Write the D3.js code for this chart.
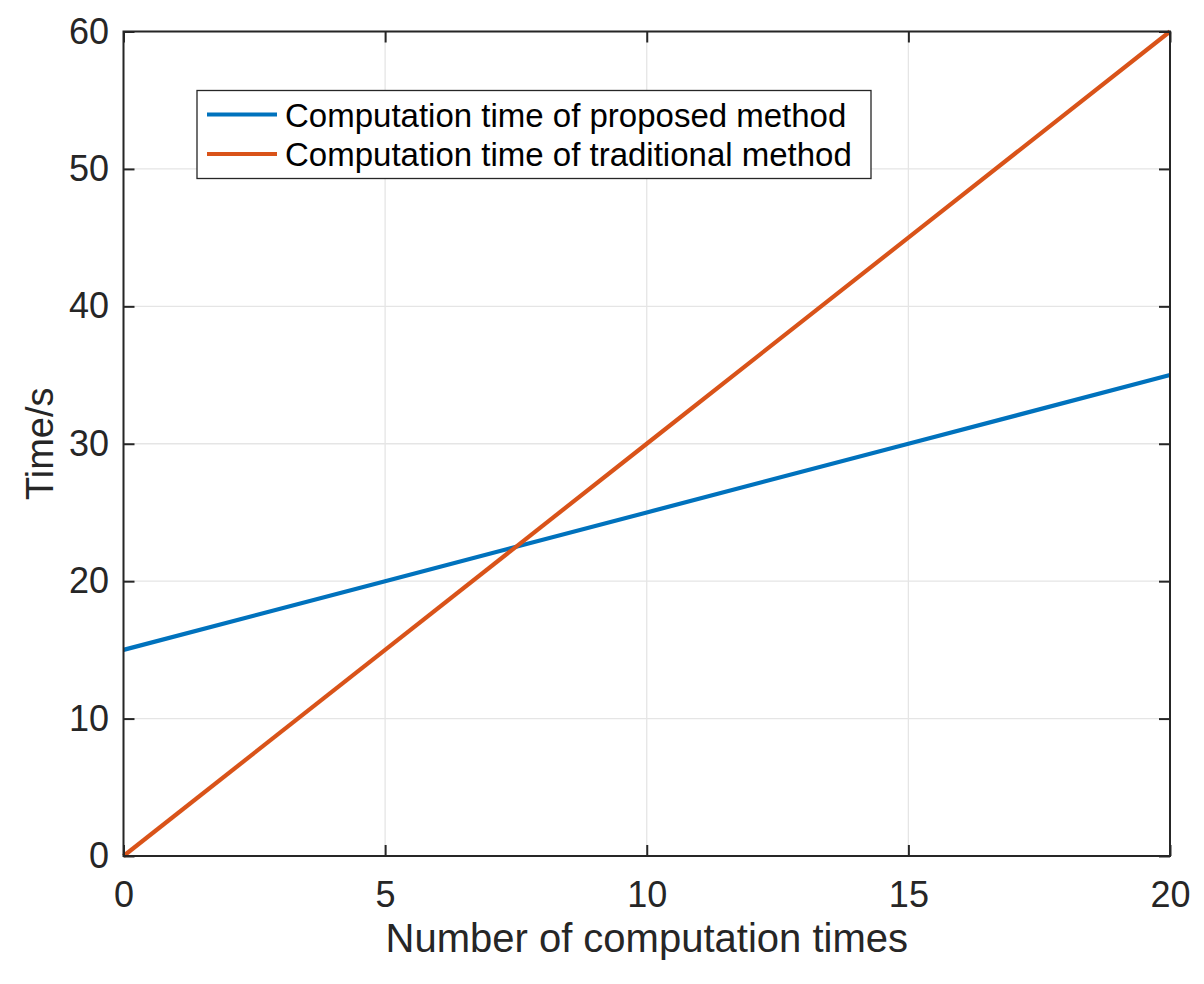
<!DOCTYPE html>
<html>
<head>
<meta charset="utf-8">
<script src="https://cdn.jsdelivr.net/npm/d3@7"></script>
<style>
  body { margin: 0; background: #fff; }
  svg text { font-family: "Liberation Sans", Arial, Helvetica, sans-serif; fill: #262626; }
</style>
</head>
<body>
<div id="chart"></div>
<script>
// data
var runs = [0, 5, 10, 15, 20];
var proposedTime = [15, 20, 25, 30, 35];
var traditionalTime = [0, 15, 30, 45, 60];
var xTicks = [0, 5, 10, 15, 20];
var yTicks = [0, 10, 20, 30, 40, 50, 60];
var seriesNames = ["Computation time of proposed method", "Computation time of traditional method"];
var seriesColors = ["#0072BD", "#D95319"];

var width = 1204, height = 984;
var margin = {top: 31.5, right: 34, bottom: 128, left: 123.5};
var plotW = width - margin.left - margin.right;
var plotH = height - margin.top - margin.bottom;

var svg = d3.select("#chart").append("svg")
    .attr("width", width)
    .attr("height", height);

var g = svg.append("g")
    .attr("transform", "translate(" + margin.left + "," + margin.top + ")");

var x = d3.scaleLinear().domain([0, 20]).range([0, plotW]);
var y = d3.scaleLinear().domain([0, 60]).range([plotH, 0]);

// grid
g.append("g").selectAll("line").data(xTicks).enter().append("line")
    .attr("x1", d => x(d)).attr("x2", d => x(d))
    .attr("y1", 0).attr("y2", plotH)
    .attr("stroke", "#e5e5e5").attr("stroke-width", 1.3);
g.append("g").selectAll("line").data(yTicks).enter().append("line")
    .attr("y1", d => y(d)).attr("y2", d => y(d))
    .attr("x1", 0).attr("x2", plotW)
    .attr("stroke", "#e5e5e5").attr("stroke-width", 1.3);

// lines
var series = [proposedTime, traditionalTime];
var line = d3.line()
    .x((d, i) => x(runs[i]))
    .y(d => y(d));

series.forEach(function(vals, k){
    g.append("path")
        .datum(vals)
        .attr("d", line)
        .attr("fill", "none")
        .attr("stroke", seriesColors[k])
        .attr("stroke-width", 4.2);
});

// axes (ticks inside, like matlab)
var axisColor = "#262626";
function styleAxis(sel){
    sel.select(".domain").remove();
    sel.selectAll(".tick line").attr("stroke", axisColor).attr("stroke-width", 2);
    sel.selectAll(".tick text").style("font-size", "36px").attr("fill", axisColor);
}

g.append("g")
    .attr("transform", "translate(0," + plotH + ")")
    .call(d3.axisBottom(x).tickValues(xTicks).tickSizeInner(-11).tickSizeOuter(0).tickPadding(25))
    .call(styleAxis);
g.append("g")
    .call(d3.axisTop(x).tickValues(xTicks).tickSizeInner(-11).tickSizeOuter(0).tickFormat(""))
    .call(styleAxis);
g.append("g")
    .call(d3.axisLeft(y).tickValues(yTicks).tickSizeInner(-11).tickSizeOuter(0).tickPadding(14.5))
    .call(styleAxis);
g.append("g")
    .attr("transform", "translate(" + plotW + ",0)")
    .call(d3.axisRight(y).tickValues(yTicks).tickSizeInner(-11).tickSizeOuter(0).tickFormat(""))
    .call(styleAxis);

// box
g.append("rect")
    .attr("x", 0).attr("y", 0)
    .attr("width", plotW).attr("height", plotH)
    .attr("fill", "none")
    .attr("stroke", axisColor)
    .attr("stroke-width", 2);

// axis labels
svg.append("text")
    .attr("x", margin.left + plotW / 2)
    .attr("y", 952)
    .attr("text-anchor", "middle")
    .style("font-size", "40px")
    .text("Number of computation times");

svg.append("text")
    .attr("transform", "translate(53," + (margin.top + plotH / 2) + ") rotate(-90)")
    .attr("text-anchor", "middle")
    .style("font-size", "38px")
    .text("Time/s");

// legend
var legend = svg.append("g").attr("transform", "translate(197,90.5)");
legend.append("rect")
    .attr("width", 674).attr("height", 88)
    .attr("fill", "#fff")
    .attr("stroke", "#262626")
    .attr("stroke-width", 1.3);

seriesNames.forEach(function(name, k){
    var rowY = 24 + k * 39.5;
    legend.append("line")
        .attr("x1", 10).attr("x2", 80)
        .attr("y1", rowY).attr("y2", rowY)
        .attr("stroke", seriesColors[k])
        .attr("stroke-width", 4.2);
    legend.append("text")
        .attr("x", 88)
        .attr("y", rowY + 12)
        .style("font-size", "33px")
        .style("fill", "#000")
        .text(name);
});
</script>
</body>
</html>
